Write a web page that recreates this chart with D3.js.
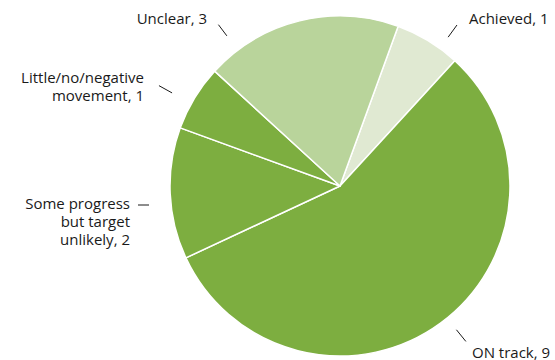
<!DOCTYPE html>
<html lang="en">
<head>
  <meta charset="UTF-8">
  <title>Progress status pie</title>
  <style>
    body { margin: 0; background: #fff; }
    .lbl { font-family: "Open Sans", sans-serif; font-size: 15px; fill: #1a1a1a; }
    .lead { stroke: #1a1a1a; stroke-width: 1; }
  </style>
</head>
<body>
  <div id="chart"></div>
  <script src="https://d3js.org/d3.v7.min.js"></script>
  <script>
    // Data (clockwise from the first slice)
    const categories = ["Achieved", "ON track", "Some progress but target unlikely", "Little/no/negative movement", "Unclear"];
    const values = [1, 9, 2, 1, 3];
    const colors = ["#e0e9d2", "#7dae40", "#7dae40", "#7dae40", "#b9d49b"];
    // label lines as displayed
    const labelLines = [
      ["Achieved, 1"],
      ["ON track, 9"],
      ["Some progress", "but target", "unlikely, 2"],
      ["Little/no/negative", "movement, 1"],
      ["Unclear, 3"]
    ];

    const width = 555, height = 360;
    const cx = 340, cy = 186, radius = 170;
    const startDeg = 20;

    const svg = d3.select("#chart").append("svg")
      .attr("width", width).attr("height", height);

    const g = svg.append("g").attr("transform", `translate(${cx},${cy})`);

    const pie = d3.pie().sort(null)
      .startAngle(startDeg * Math.PI / 180)
      .endAngle((startDeg + 360) * Math.PI / 180);
    const arcs = pie(values);
    const arc = d3.arc().innerRadius(0).outerRadius(radius);

    g.selectAll("path.slice")
      .data(arcs)
      .enter().append("path")
      .attr("class", "slice")
      .attr("d", arc)
      .attr("fill", (d, i) => colors[i])
      .attr("stroke", "#fff")
      .attr("stroke-width", 1.5)
      .attr("stroke-linejoin", "round");

    // label placement: leader angle (deg), text anchor point relative to center
    const layout = [
      { ang: 36, r0: 184, r1: 199, tx: 129, ty: -162, anchor: "start" },
      { ang: 141, r0: 185, r1: 200, tx: 132, ty: 172, anchor: "start" },
      { horiz: true, x0: -202, x1: -191, y: 19, tx: -210, ty: 23, anchor: "end" },
      { ang: -61, r0: 192, r1: 207, tx: -196, ty: -103, anchor: "end" },
      { ang: -37, r0: 188, r1: 202, tx: -133, ty: -162, anchor: "end" }
    ];
    const lineH = 18;

    const pt = (deg, r) => {
      const a = deg * Math.PI / 180;
      return [r * Math.sin(a), -r * Math.cos(a)];
    };

    layout.forEach((L, i) => {
      let p0, p1;
      if (L.horiz) { p0 = [L.x0, L.y]; p1 = [L.x1, L.y]; }
      else { p0 = pt(L.ang, L.r0); p1 = pt(L.ang, L.r1); }
      g.append("line").attr("class", "lead")
        .attr("x1", p0[0]).attr("y1", p0[1])
        .attr("x2", p1[0]).attr("y2", p1[1]);

      const t = g.append("text").attr("class", "lbl")
        .attr("text-anchor", L.anchor);
      labelLines[i].forEach((s, k) => {
        t.append("tspan").attr("x", L.tx).attr("y", L.ty + k * lineH).text(s);
      });
    });
  </script>
</body>
</html>
